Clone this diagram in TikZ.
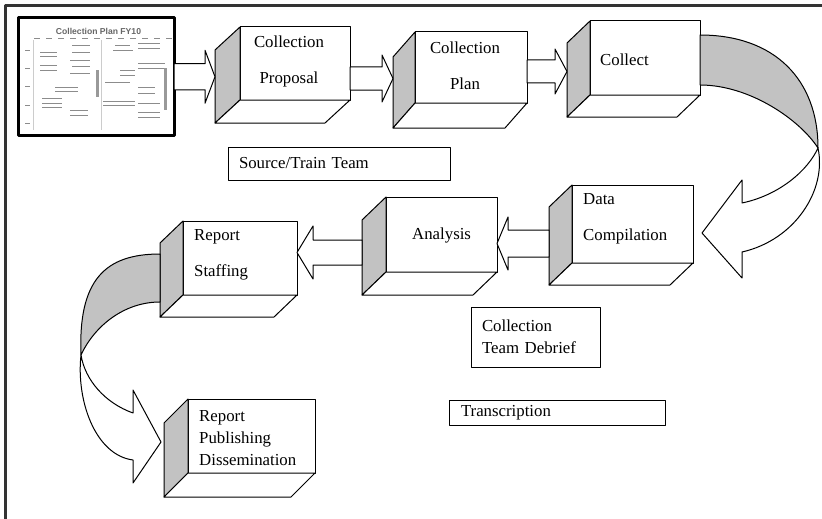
\documentclass[tikz,border=0pt]{standalone}
\usepackage{fontspec}
\setmainfont{Liberation Serif}
\setsansfont{Liberation Sans}
\usetikzlibrary{calc}
\definecolor{sidegray}{gray}{0.76}
\definecolor{framegray}{gray}{0.2}
\newcommand\cubebox[7]{%
  \node[front, minimum width={(#4-#2)*1pt}, minimum height={(#5-#3)*1pt}] (#1) at ({(#2+#4)/2},{(#3+#5)/2}) {};
  \coordinate (#1-side) at ($(#1.west)+(#6,#7)$);
  \filldraw[face, fill=sidegray] (#1.north west) -- (#1.south west) -- ++(#6,#7) -- ($(#1.north west)+(#6,#7)$) -- cycle;
  \filldraw[face, fill=white] (#1.south west) -- (#1.south east) -- ++(#6,#7) -- ($(#1.south west)+(#6,#7)$) -- cycle;
}
\newcommand\harrow[7]{%
  \filldraw[barrow] let \p1=(#1), \p2=(#2), \p3=(0,#3) in
    (\x1,{\y3+#4pt}) -- ({\x2-(#7)*#6pt},{\y3+#4pt}) -- ({\x2-(#7)*#6pt},{\y3+#5pt})
    -- (\x2,\y3) -- ({\x2-(#7)*#6pt},{\y3-#5pt}) -- ({\x2-(#7)*#6pt},{\y3-#4pt})
    -- (\x1,{\y3-#4pt}) -- cycle;
}
\begin{document}
\begin{tikzpicture}[x=1pt,y=-1pt, line join=round,
  front/.style={draw, line width=1pt, fill=white, inner sep=0pt, outer sep=0pt},
  face/.style={draw, line width=1pt},
  barrow/.style={draw, line width=1pt, fill=white},
  ribbon/.style={draw, line width=1pt},
  lbl/.style={font=\fontsize{16.8}{36}\selectfont, inner sep=0pt},
  plainbox/.style={draw, line width=1pt, font=\fontsize{16.8}{22}\selectfont, align=left, inner ysep=0pt, outer sep=0pt},
  mini/.style={black!45, line width=0.7pt}]
\useasboundingbox (0,0) rectangle (822,519);
\fill[white] (0,0) rectangle (822,519);

% outer frame (top and left)
\draw[line width=2.7pt, framegray] (5.3,519) -- (5.3,5.3) -- (822,5.3);

% thumbnail of the collection plan
\node[draw, line width=3pt, minimum width=155.5pt, minimum height=117.5pt, inner sep=0pt, outer sep=0pt] (img) at (96.25,76.75) {};
\node[font=\sffamily\bfseries\fontsize{8.6}{10}\selectfont, text=black!60, inner sep=0pt] (imgtitle) at (98.5,31) {Collection Plan FY10};
\begin{scope}[mini]
  \foreach \xx in {37,49,61,73,85,97,109,121,133,145,157,169} \draw (\xx-3,38) -- (\xx+3,38);
  \foreach \yy in {50,68,86,105,123} \draw (25,\yy) -- (30,\yy);
  \draw[black!20, line width=0.4pt] (33,40) -- (33,130) (101,40) -- (101,130);
  \foreach \a/\b/\c in {40/57/52,40/57/56,40/57/65,40/57/70,72/90/45,72/90/52,70/90/60,72/90/66,70/90/73,55/78/87,55/78/91,42/62/98,42/62/103,42/62/107,70/88/110,70/88/115,115/130/45,113/133/50,138/160/43,138/160/48,138/165/63,138/165/68,120/135/70,120/135/75,105/130/82,138/155/87,138/155/93,103/135/101,103/135/105,138/160/103,138/160/112,138/160/117}
    \draw (\a,\c) -- (\b,\c);
  \fill[black!40] (96,70) rectangle (99,97);
  \fill[black!40] (164,68) rectangle (167,110);
\end{scope}

% 3D boxes
\cubebox{prop}{240}{27}{350}{100}{-25}{23}
\cubebox{plan}{415}{32}{527}{103}{-22}{25}
\cubebox{collect}{590}{21}{700}{95}{-23}{22}
\cubebox{data}{572}{185}{693}{263}{-23}{22}
\cubebox{analysis}{386}{197}{497}{272}{-24}{23}
\cubebox{staffing}{183}{221}{297}{295}{-23}{22}
\cubebox{publish}{188}{399}{315}{473}{-24}{24}

% labels of the boxes
\node[lbl, align=center] (prop-t) at (289,61.5) {Collection\\Proposal};
\node[lbl, align=center] (plan-t) at (465,66) {Collection\\Plan};
\node[lbl, anchor=west] (collect-t) at (600,60) {Collect};
\node[lbl, align=left, anchor=west] (data-t) at (583,219) {Data\\Compilation};
\node[lbl, anchor=west] (analysis-t) at (412,235) {Analysis};
\node[lbl, align=left, anchor=west] (staffing-t) at (194,255) {Report\\Staffing};
\node[lbl, align=left, anchor=west, font=\fontsize{16.8}{22}\selectfont] (publish-t) at (199,438) {Report\\Publishing\\Dissemination};

% plain boxes
\node[plainbox, minimum height=33pt, text width=200pt, inner xsep=11pt] (source) at (339,163.5) {Source/Train Team};
\node[plainbox, minimum height=60pt, text width=107pt, inner xsep=11pt] (debrief) at (535.5,337) {Collection\\Team Debrief};
\node[plainbox, minimum height=25pt, text width=192pt, inner xsep=12pt] (transcr) at (557,412.5) {Transcription};

% straight block arrows
\harrow{img.east}{prop-side}{76.75}{13}{26.5}{10}{1}
\harrow{prop.east}{plan-side}{78.5}{11.5}{23.5}{11}{1}
\harrow{plan.east}{collect-side}{71.5}{11.5}{22.5}{12}{1}
\harrow{data-side}{analysis.east}{243.5}{13.5}{26.5}{11}{-1}
\harrow{analysis-side}{staffing.east}{252.5}{12.5}{26.5}{16}{-1}

% curved arrow: Collect -> Data Compilation
\filldraw[ribbon, fill=white] (818,148) .. controls (827,190) and (795,240) .. (742,252)
  -- (742,278) -- (702,233) -- (742,180) -- (742,203)
  .. controls (780,195) and (808,170) .. (818,148) -- cycle;
\filldraw[ribbon, fill=sidegray] (700,35) .. controls (775,35) and (818,80) .. (818,148)
  .. controls (800,120) and (750,85) .. (700,85) -- cycle;

% curved arrow: Report Staffing -> Report Publishing
\filldraw[ribbon, fill=white] (81,355) .. controls (76,400) and (95,455) .. (133,460)
  -- (133,483) -- (161,442) -- (133,390) -- (133,413)
  .. controls (105,403) and (85,380) .. (81,355) -- cycle;
\filldraw[ribbon, fill=sidegray] (160,254) .. controls (105,254) and (78,280) .. (81,355)
  .. controls (95,325) and (125,302) .. (160,302) -- cycle;
\end{tikzpicture}
\end{document}
